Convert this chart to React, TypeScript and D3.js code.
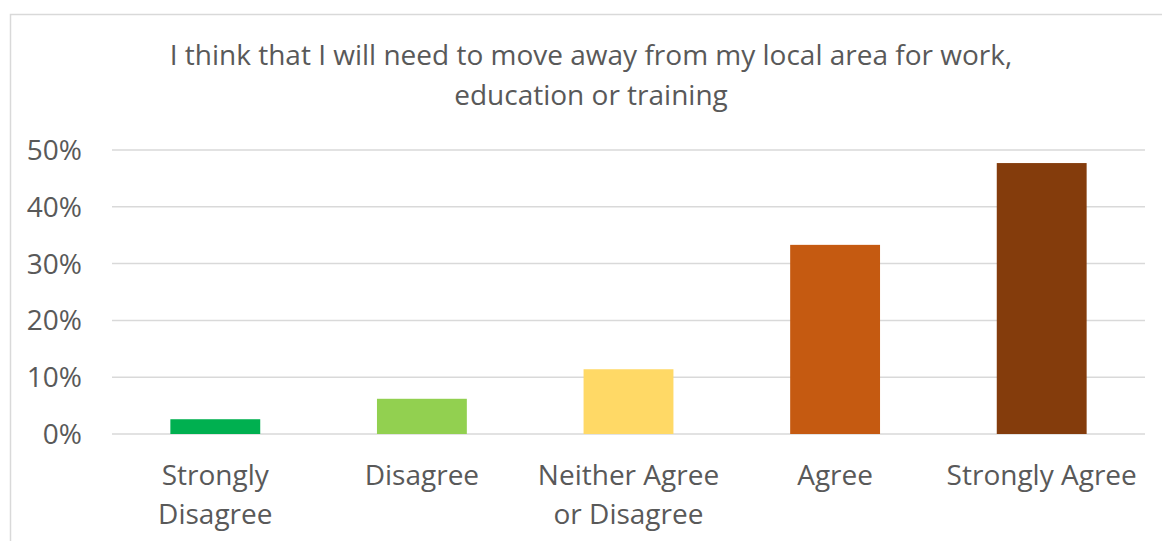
import React from "react";
import * as d3 from "d3";

const categories = ["Strongly Disagree", "Disagree", "Neither Agree or Disagree", "Agree", "Strongly Agree"];
const categoryLines = [["Strongly", "Disagree"], ["Disagree"], ["Neither Agree", "or Disagree"], ["Agree"], ["Strongly Agree"]];
const values = [0.026, 0.062, 0.114, 0.333, 0.477];
const colors = ["#00B050", "#92D050", "#FFD966", "#C55A11", "#843C0C"];
const yTicks = [0, 0.1, 0.2, 0.3, 0.4, 0.5];
const titleLines = ["I think that I will need to move away from my local area for work,", "education or training"];

export default function App() {
  const W = 1162, H = 541;
  const left = 112, right = 1145, top = 150, bottom = 434;
  const x = d3.scaleBand<string>().domain(categories).range([left, right]).paddingInner(0.565).paddingOuter(0.2825);
  const y = d3.scaleLinear().domain([0, 0.5]).range([bottom, top]);
  const font = "'Open Sans', sans-serif";
  const textColor = "#595959";
  return (
    <svg width={W} height={H} style={{ position: "absolute", left: 0, top: 0, background: "#fff" }} fontFamily={font}>
      <rect x={10.5} y={14.5} width={W + 20} height={H + 20} fill="#fff" stroke="#d9d9d9" strokeWidth={1.5} />
      {titleLines.map((t, i) => (
        <text key={i} x={591} y={65 + i * 40} textAnchor="middle" fontSize={28} fill={textColor}>{t}</text>
      ))}
      {yTicks.map((t) => (
        <g key={t}>
          <line x1={left} x2={right} y1={y(t)} y2={y(t)} stroke="#d9d9d9" strokeWidth={1.5} />
          <text x={82} y={y(t) + 10} textAnchor="end" fontSize={28} fill={textColor}>{d3.format(".0%")(t)}</text>
        </g>
      ))}
      {categories.map((c, i) => (
        <rect key={c} x={x(c)} y={y(values[i])} width={x.bandwidth()} height={y(0) - y(values[i])} fill={colors[i]} />
      ))}
      {categories.map((c, i) => (
        <text key={c} x={(x(c) as number) + x.bandwidth() / 2} textAnchor="middle" fontSize={28} fill={textColor}>
          {categoryLines[i].map((l, j) => (
            <tspan key={j} x={(x(c) as number) + x.bandwidth() / 2} y={485 + j * 39}>{l}</tspan>
          ))}
        </text>
      ))}
    </svg>
  );
}
